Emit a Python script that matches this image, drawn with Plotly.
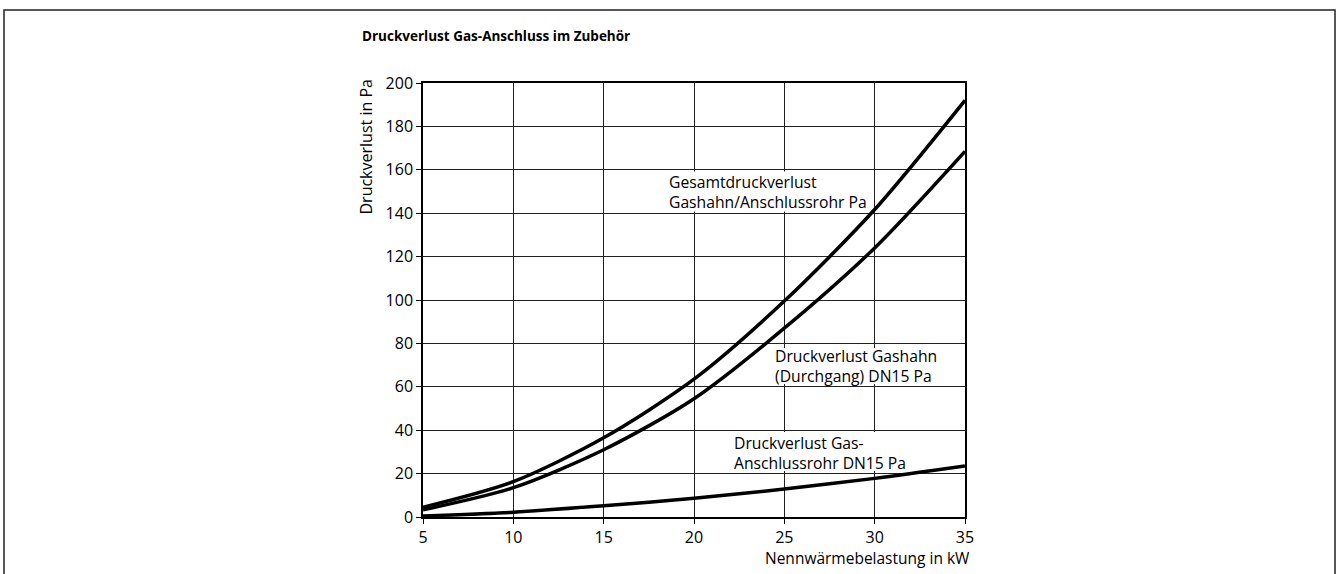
import plotly.graph_objects as go

# Data
leistung_kw = [5, 10, 15, 20, 25, 30, 35]
gesamt_pa = [4.5, 16.3, 36.5, 63.5, 99.5, 141.7, 192.0]
gashahn_pa = [3.3, 13.5, 31.0, 54.5, 87.0, 124.0, 168.5]
rohr_pa = [0.5, 2.2, 5.2, 8.6, 12.9, 17.8, 23.5]

x_ticks = [5, 10, 15, 20, 25, 30, 35]
y_ticks = [0, 20, 40, 60, 80, 100, 120, 140, 160, 180, 200]

FONT = "Open Sans"
FS = 16

fig = go.Figure()
for name, vals in [("Gesamt", gesamt_pa), ("Gashahn", gashahn_pa), ("Rohr", rohr_pa)]:
    fig.add_trace(go.Scatter(x=leistung_kw, y=vals, mode="lines", name=name,
                             line=dict(color="black", width=3.5, shape="spline", smoothing=0.8),
                             showlegend=False, hoverinfo="skip"))

W, H = 1339, 574
L, R, T, B = 423, 965, 83, 517
pw, ph = R - L, B - T

def px(xp):
    return (xp - L) / pw

def py(yp):
    return (B - yp) / ph

def dx(xp):
    return 5 + (xp - L) / pw * 30

def dy(yp):
    return (B - yp) / ph * 200

fig.update_layout(
    width=W, height=H,
    margin=dict(l=L, r=W - R, t=T, b=H - B),
    paper_bgcolor="white", plot_bgcolor="white",
    font=dict(family=FONT, size=FS, color="black"),
)

fig.update_xaxes(range=[5, 35], tickvals=x_ticks, showgrid=True, gridcolor="#222", gridwidth=1,
                 showline=True, linecolor="black", linewidth=1.5, mirror=True,
                 ticks="outside", ticklen=5, tickcolor="black", zeroline=False,
                 tickfont=dict(family=FONT, size=FS, color="black"))
fig.update_yaxes(range=[0, 200], tickvals=y_ticks, showgrid=True, gridcolor="#222", gridwidth=1,
                 showline=True, linecolor="black", linewidth=1.5, mirror=True,
                 ticks="outside", ticklen=5, tickcolor="black", zeroline=False,
                 tickfont=dict(family=FONT, size=FS, color="black"))

# outer frame
fig.add_shape(type="rect", xref="paper", yref="paper",
              x0=px(4), x1=px(1335), y0=py(620), y1=py(10),
              line=dict(color="#222", width=1.5), fillcolor="rgba(0,0,0,0)", layer="below")

# white boxes behind curve labels (above grid, below curves)
for (x0p, x1p, y0p, y1p) in [(665, 872, 171.5, 211.5), (771, 940, 348, 384), (731, 912, 432, 471)]:
    fig.add_shape(type="rect", xref="x", yref="y", x0=dx(x0p), x1=dx(x1p), y0=dy(y1p), y1=dy(y0p),
                  line=dict(width=0), fillcolor="white", layer="between")

# title
fig.add_annotation(xref="paper", yref="paper", x=px(360), y=py(36), xanchor="left", yanchor="middle",
                   text="<b>Druckverlust Gas-Anschluss im Zubehör</b>", showarrow=False,
                   font=dict(family=FONT, size=13.5, color="black"))

# axis titles
fig.add_annotation(xref="paper", yref="paper", x=px(365), y=py(78), xanchor="center", yanchor="top",
                   text="Druckverlust in Pa", textangle=-90, showarrow=False,
                   font=dict(family=FONT, size=FS, color="black"))
fig.add_annotation(xref="paper", yref="paper", x=px(972), y=py(558), xanchor="right", yanchor="middle",
                   text="Nennwärmebelastung in kW", showarrow=False,
                   font=dict(family=FONT, size=15.5, color="black"))

# curve labels
labels = [
    (18.56, 149.8, "Gesamtdruckverlust<br>Gashahn/Anschlussrohr Pa"),
    (24.42, 69.6, "Druckverlust Gashahn<br>(Durchgang) DN15 Pa"),
    (22.16, 29.7, "Druckverlust Gas-<br>Anschlussrohr DN15 Pa"),
]
for lx, ly, txt in labels:
    fig.add_annotation(x=lx, y=ly, xref="x", yref="y", xanchor="left", yanchor="middle", align="left",
                       text=txt, showarrow=False, borderpad=0,
                       font=dict(family=FONT, size=FS - 0.3, color="black"))

fig.write_html("out.html", config={"displayModeBar": False},
               post_script="document.body.style.margin='0';")
